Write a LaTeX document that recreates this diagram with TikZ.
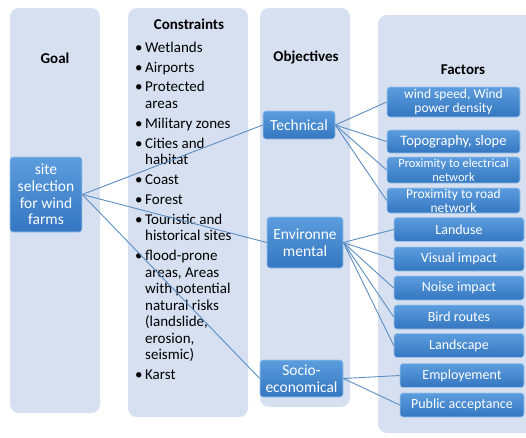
\documentclass[tikz,border=0pt]{standalone}
\usepackage{fontspec}
\setmainfont{Carlito}
\usetikzlibrary{positioning}

\definecolor{colbg}{RGB}{214,224,241}
\definecolor{boxtop}{RGB}{92,157,222}
\definecolor{boxbot}{RGB}{52,118,192}
\definecolor{linkc}{RGB}{92,142,194}

\begin{document}
\begin{tikzpicture}[x=1pt,y=-1pt,
  column/.style={fill=colbg,rounded corners=9pt},
  box/.style={draw=boxtop!60!white,line width=0.6pt,top color=boxtop,bottom color=boxbot,
    rounded corners=3pt,text=white,align=center,inner sep=0pt},
  factor/.style={box,minimum width=130pt,minimum height=24pt,font=\fontsize{14}{15}\selectfont},
  title/.style={font=\bfseries\fontsize{15}{17}\selectfont},
  link/.style={draw=linkc,line width=0.9pt}]

\useasboundingbox (0,0) rectangle (526,437);

% Spalten
\fill[column] (10,8) rectangle (100,413);
\fill[column] (128,8) rectangle (248,417);
\fill[column] (260,8) rectangle (350,407);
\fill[column] (378,15) rectangle (570,433);

% Titel
\node[title] (goaltitle) at (55,58) {Goal};
\node[title] (constitle) at (189,24) {Constraints};
\node[title] (objtitle) at (306,57) {Objectives};
\node[title] (factitle) at (463,70) {Factors};

% Ziel
\node[box,minimum width=72pt,minimum height=75pt,font=\fontsize{15.5}{16.7}\selectfont]
  (site) at (46,194.5) {site\\selection\\for wind\\farms};

% Einschraenkungen
\def\bu{\textbullet\,}
\def\ind{\phantom{\textbullet\,}}
\node[anchor=north west,align=left,inner sep=0pt,font=\fontsize{15}{16.5}\selectfont] (constraints) at (135,41.5)
  {\bu Wetlands\\[3.4pt]
   \bu Airports\\[3.4pt]
   \bu Protected\\ \ind areas\\[3.4pt]
   \bu Military zones\\[3.4pt]
   \bu Cities and\\ \ind habitat\\[3.4pt]
   \bu Coast\\[3.4pt]
   \bu Forest\\[3.4pt]
   \bu Touristic and\\ \ind historical sites\\[3.4pt]
   \bu flood-prone\\ \ind areas, Areas\\ \ind with potential\\ \ind natural risks\\ \ind (landslide,\\ \ind erosion,\\ \ind seismic)\\[3.4pt]
   \bu Karst};

% Ziele
\node[box,minimum width=72pt,minimum height=28pt,font=\fontsize{15.5}{16.7}\selectfont]
  (tech) at (299,125) {Technical};
\node[box,minimum width=76pt,minimum height=51pt,font=\fontsize{15.5}{16.7}\selectfont]
  (env) at (305,242.5) {Environne\\mental};
\node[box,minimum width=83pt,minimum height=37pt,font=\fontsize{15.5}{16.7}\selectfont]
  (socio) at (301.5,378.5) {Socio-\\economical};

% Faktoren
\node[factor,minimum width=133pt,minimum height=30pt,font=\fontsize{13.5}{14}\selectfont]
  (wind) at (453.5,102) {wind speed, Wind\\power density};
\node[factor,minimum width=133pt,minimum height=23pt,font=\fontsize{14.5}{15}\selectfont]
  (topo) at (453.5,141.5) {Topography, slope};
\node[factor,minimum width=133pt,minimum height=26pt,font=\fontsize{12.5}{13.5}\selectfont]
  (elec) at (453.5,170) {Proximity to electrical\\network};
\node[factor,minimum width=133pt,minimum height=25pt,font=\fontsize{13.5}{14}\selectfont]
  (road) at (453.5,200.5) {Proximity to road\\network};
\node[factor] (landuse) at (459,229.5) {Landuse};
\node[factor] (visual) at (459,259) {Visual impact};
\node[factor] (noise) at (459,288) {Noise impact};
\node[factor] (bird) at (459,317) {Bird routes};
\node[factor] (landscape) at (459,345.5) {Landscape};
\node[factor,minimum width=124pt] (employ) at (462,375.5) {Employement};
\node[factor,minimum width=124pt] (public) at (462,405) {Public acceptance};

% Verbindungen
\foreach \o in {tech,env,socio}
  \draw[link] (site.east) -- (\o.west);
\foreach \f in {wind,topo,elec,road}
  \draw[link] (tech.east) -- (\f.west);
\foreach \f in {landuse,visual,noise,bird,landscape}
  \draw[link] (env.east) -- (\f.west);
\foreach \f in {employ,public}
  \draw[link] (socio.east) -- (\f.west);

\end{tikzpicture}
\end{document}
